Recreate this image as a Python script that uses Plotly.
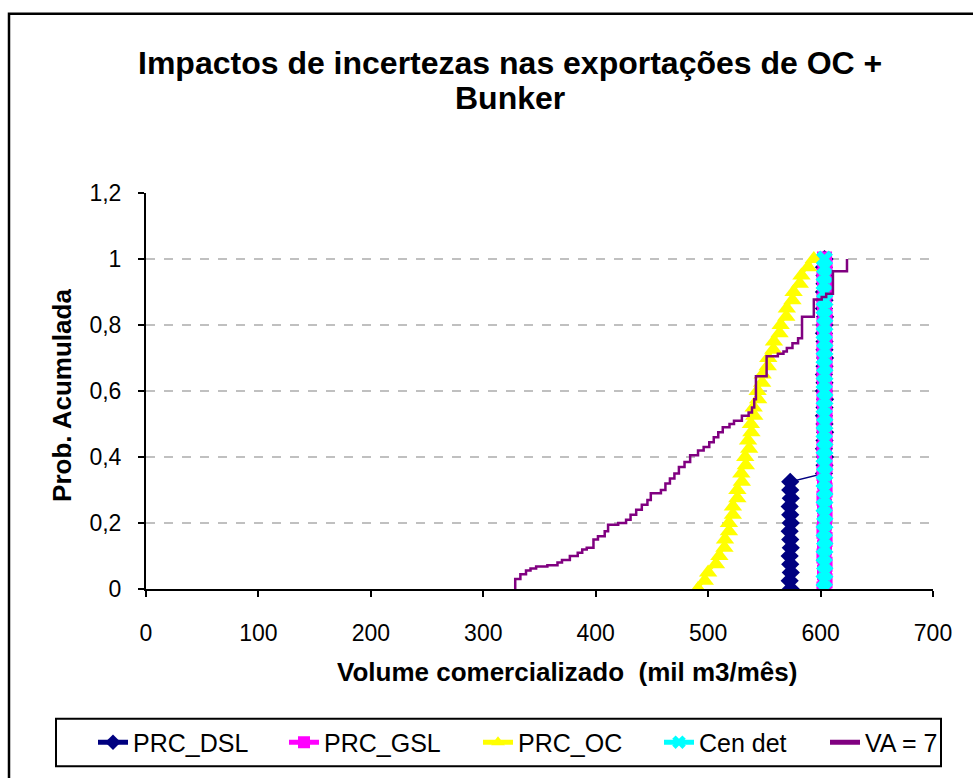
import plotly.graph_objects as go

# Cumulative probability levels shared by the marker series
prob = [0.0, 0.025, 0.05, 0.075, 0.1, 0.125, 0.15, 0.175, 0.2, 0.225,
        0.25, 0.275, 0.3, 0.325, 0.35, 0.375, 0.4, 0.425, 0.45, 0.475,
        0.5, 0.525, 0.55, 0.575, 0.6, 0.625, 0.65, 0.675, 0.7, 0.725,
        0.75, 0.775, 0.8, 0.825, 0.85, 0.875, 0.9, 0.925, 0.95, 0.975, 1.0]

# Volume (mil m3/mês) at each probability level
prc_dsl = [573.5, 572.5, 573.5, 573.0, 572.5, 573.5, 573.0, 572.5, 573.5, 573.0,
           572.5, 573.5, 573.0, 573.0, 603.0, 603.5, 604.0, 603.0, 603.5, 604.0,
           603.5, 603.0, 603.5, 604.0, 603.0, 603.5, 603.0, 603.5, 604.0, 603.5,
           603.5, 603.0, 603.5, 604.0, 603.0, 603.5, 603.0, 603.5, 603.5, 603.0, 603.5]

prc_gsl = [603.0, 604.0, 603.5, 604.0, 603.0, 603.5, 604.0, 603.0, 603.5, 604.0,
           603.5, 603.0, 604.0, 603.5, 603.0, 604.0, 603.5, 603.0, 604.0, 603.5,
           603.0, 604.0, 603.5, 603.0, 604.0, 603.5, 603.0, 604.0, 603.5, 603.0,
           604.0, 603.5, 603.0, 604.0, 603.5, 603.0, 604.0, 603.5, 603.0, 604.0, 603.5]

prc_oc = [491.0, 497.0, 500.0, 507.0, 510.0, 514.5, 515.0, 518.5, 518.5, 522.0,
          522.0, 526.0, 526.0, 530.0, 529.5, 533.5, 533.0, 536.5, 535.5, 538.5,
          538.0, 541.0, 540.5, 544.5, 544.0, 548.0, 548.5, 553.0, 553.5, 558.0,
          558.5, 563.5, 564.5, 569.5, 570.0, 575.0, 576.0, 581.5, 583.0, 589.0, 594.0]

cen_det = [603.5, 603.0, 604.0, 603.5, 603.0, 604.0, 603.5, 603.0, 604.0, 603.5,
           603.0, 604.0, 603.5, 603.0, 604.0, 603.5, 603.0, 604.0, 603.5, 603.0,
           604.0, 603.5, 603.0, 604.0, 603.5, 603.0, 604.0, 603.5, 603.0, 604.0,
           603.5, 603.0, 604.0, 603.5, 603.0, 604.0, 603.5, 603.0, 604.0, 603.5, 603.5]

# Stepped cumulative curve for VA = 7 (value where each rise happens, level before it)
va7_x = [328.4, 333, 338, 342, 347, 357, 366, 370, 377, 384, 388, 392, 398, 402,
         408, 411, 420, 427, 431, 436, 441, 446, 449, 458, 462, 466, 470, 474, 479,
         484, 491, 496, 501, 505, 509, 513, 519, 523, 530, 536, 539, 541, 542.5,
         552, 562, 567, 570, 575, 580, 583.5, 594, 601, 605, 611, 623.5, 623.5]
va7_y = [0.0, 0.03, 0.045, 0.056, 0.062, 0.068, 0.072, 0.08, 0.088, 0.1, 0.11,
         0.12, 0.125, 0.15, 0.16, 0.175, 0.195, 0.2, 0.21, 0.225, 0.24, 0.255, 0.27,
         0.29, 0.3, 0.32, 0.335, 0.35, 0.37, 0.385, 0.405, 0.42, 0.43, 0.445, 0.46,
         0.475, 0.49, 0.5, 0.51, 0.525, 0.535, 0.55, 0.575, 0.645, 0.705, 0.713,
         0.72, 0.73, 0.745, 0.76, 0.825, 0.877, 0.885, 0.895, 0.963, 1.0]

x_ticks = [0, 100, 200, 300, 400, 500, 600, 700]
y_ticks = [0, 0.2, 0.4, 0.6, 0.8, 1.0, 1.2]
title_lines = ["Impactos de incertezas nas exportações de OC +", "Bunker"]

FONT = "Arial, Liberation Sans, sans-serif"
W, H = 973, 778
L, R, T, B = 146, 40, 193, 185
PW, PH = W - L - R, H - T - B


def px_x(px):
    """Page pixel column -> plot-paper x."""
    return (px - L) / PW


def px_y(py):
    """Page pixel row -> plot-paper y."""
    return (H - B - py) / PH


fig = go.Figure()

fig.add_trace(go.Scatter(
    x=prc_dsl, y=prob, name="PRC_DSL", mode="lines+markers", legend="legend",
    line=dict(color="#000080", width=1.5),
    marker=dict(symbol="diamond", size=14, color="#000080")))
fig.add_trace(go.Scatter(
    x=prc_gsl, y=prob, name="PRC_GSL", mode="lines+markers", legend="legend2",
    line=dict(color="#FF00FF", width=1.5),
    marker=dict(symbol="square", size=15, color="#FF00FF")))
fig.add_trace(go.Scatter(
    x=prc_oc, y=prob, name="PRC_OC", mode="lines+markers", legend="legend3",
    line=dict(color="#FFFF00", width=1.5),
    marker=dict(symbol="triangle-up", size=16, color="#FFFF00")))
fig.add_trace(go.Scatter(
    x=cen_det, y=prob, name="Cen det", mode="lines+markers", legend="legend4",
    line=dict(color="#00FFFF", width=1.5),
    marker=dict(symbol="x", size=15, color="#00FFFF",
                line=dict(color="#00FFFF", width=0))))
fig.add_trace(go.Scatter(
    x=va7_x, y=va7_y, name="VA = 7", mode="lines", legend="legend5",
    line=dict(color="#800080", width=2.5, shape="vh")))


def legend_at(text_px):
    # one single-entry legend per series so each label sits at its own column
    return dict(x=px_x(text_px - 41), xanchor="left", y=px_y(748), yanchor="middle",
                orientation="h", font=dict(size=25, family=FONT, color="black"),
                bgcolor="rgba(0,0,0,0)", borderwidth=0, itemsizing="constant")


# two-line bold title, each line placed at its own row
title_annotations = [
    dict(text=f"<b>{line}</b>", x=px_x(510), y=px_y(cy),
         xref="paper", yref="paper", xanchor="center", yanchor="middle",
         showarrow=False, font=dict(size=32, family=FONT, color="black"))
    for line, cy in zip(title_lines, [62, 97])
]

fig.update_layout(
    width=W, height=H, autosize=False,
    margin=dict(l=L, r=R, t=T, b=B),
    paper_bgcolor="white", plot_bgcolor="white",
    separators=",.",
    font=dict(family=FONT, color="black"),
    xaxis=dict(range=[0, 700], tickvals=x_ticks, showgrid=False, zeroline=False,
               showline=True, linecolor="black", linewidth=2,
               ticks="outside", ticklen=6, tickwidth=2, tickcolor="black",
               ticklabelstandoff=16,
               tickfont=dict(size=23, family=FONT, color="black")),
    yaxis=dict(range=[0, 1.2], tickvals=y_ticks, showgrid=True,
               gridcolor="#c0c0c0", griddash="dash", gridwidth=1.5, zeroline=False,
               showline=True, linecolor="black", linewidth=2,
               ticks="outside", ticklen=6, tickwidth=2, tickcolor="black",
               ticklabelstandoff=12,
               tickfont=dict(size=23, family=FONT, color="black")),
    showlegend=True,
    legend=legend_at(134),
    legend2=legend_at(325),
    legend3=legend_at(519),
    legend4=legend_at(700),
    legend5=legend_at(866),
    annotations=title_annotations + [
        dict(text="<b>Volume comercializado  (mil m3/mês)</b>",
             x=px_x(567), y=px_y(677), xref="paper", yref="paper",
             xanchor="center", yanchor="middle", showarrow=False,
             font=dict(size=26, family=FONT, color="black")),
        dict(text="<b>Prob. Acumulada</b>", textangle=-90,
             x=px_x(62), y=px_y(398), xref="paper", yref="paper",
             xanchor="center", yanchor="middle", showarrow=False,
             font=dict(size=26, family=FONT, color="black")),
    ],
    shapes=[
        # chart frame
        dict(type="rect", xref="paper", yref="paper",
             x0=px_x(9), x1=px_x(1020), y0=px_y(830), y1=px_y(12),
             line=dict(color="black", width=2.5), layer="below"),
        # legend frame
        dict(type="rect", xref="paper", yref="paper",
             x0=px_x(56), x1=px_x(941), y0=px_y(772), y1=px_y(724),
             line=dict(color="black", width=2), layer="below"),
    ],
)

fig.write_html("out.html")
